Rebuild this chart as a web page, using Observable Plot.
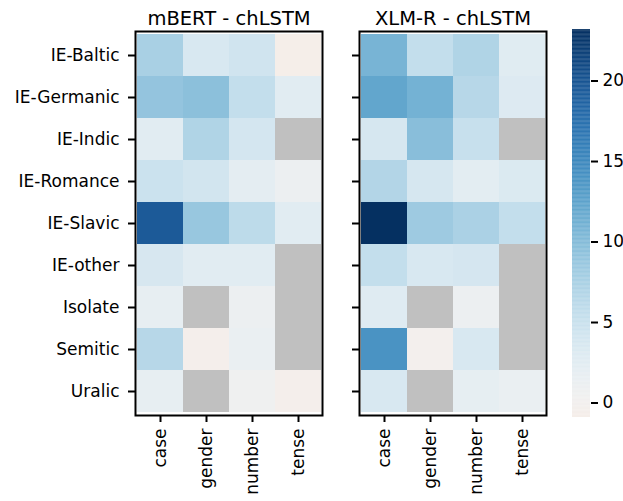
<!DOCTYPE html>
<html>
<head>
<meta charset="utf-8">
<script src="https://cdn.jsdelivr.net/npm/d3@7"></script>
<script src="https://cdn.jsdelivr.net/npm/@observablehq/plot@0.6"></script>
<style>
  html, body { margin: 0; padding: 0; background: white; }
  #wrap { position: relative; width: 623px; height: 501px; }
  #wrap svg { position: absolute; left: 0; top: 0; background: transparent; }
</style>
</head>
<body>
<div id="wrap"></div>
<script>
const groups = ["IE-Baltic", "IE-Germanic", "IE-Indic", "IE-Romance", "IE-Slavic", "IE-other", "Isolate", "Semitic", "Uralic"];
const features = ["case", "gender", "number", "tense"];
const titles = ["mBERT - chLSTM", "XLM-R - chLSTM"];
// rows = groups, columns = features; null = missing
const mbert = [
  [7.5, 3.5, 4.3, -0.9],
  [9.0, 9.5, 5.5, 2.5],
  [2.5, 7.0, 4.0, null],
  [4.8, 4.2, 2.2, 1.0],
  [19.5, 8.7, 6.0, 2.5],
  [3.7, 2.5, 2.6, null],
  [1.8, null, 1.0, null],
  [6.5, -0.6, 1.3, null],
  [1.8, null, 0.6, -0.6]
];
const xlmr = [
  [10.8, 5.5, 7.0, 2.7],
  [12.2, 11.0, 6.5, 3.0],
  [3.8, 9.7, 5.2, null],
  [6.8, 3.8, 2.3, 3.2],
  [23.2, 8.3, 7.4, 5.5],
  [5.5, 3.6, 3.9, null],
  [2.8, null, 1.0, null],
  [14.0, -0.2, 3.5, null],
  [3.6, null, 1.9, 1.4]
];
const cbarTicks = [0, 5, 10, 15, 20];
const vmin = -0.9, vmax = 23.2;

const W = 623, H = 501;
const font = {fontFamily: "DejaVu Sans", fontSize: "17px", background: "transparent", color: "black"};
const colorOpts = {type: "diverging", scheme: "RdBu", pivot: 0, domain: [vmin, vmax]};

function toRows(mat) {
  const rows = [];
  groups.forEach((g, i) => features.forEach((f, j) => rows.push({group: g, feature: f, v: mat[i][j]})));
  return rows;
}

function panel(mat, title, left, right, showY) {
  const rows = toRows(mat);
  return Plot.plot({
    width: W, height: H,
    marginLeft: left, marginRight: W - right, marginTop: 31, marginBottom: H - 415,
    style: font,
    x: {domain: features, padding: 0, label: null},
    y: {domain: groups, padding: 0, label: null},
    color: colorOpts,
    marks: [
      Plot.cell(rows.filter(d => d.v == null), {x: "feature", y: "group", fill: "#c0c0c0"}),
      Plot.cell(rows.filter(d => d.v != null), {x: "feature", y: "group", fill: "v"}),
      Plot.frame({stroke: "black", strokeWidth: 2}),
      Plot.axisY({anchor: "left", tickSize: 7, tickPadding: 9, strokeWidth: 2, label: null,
                  tickFormat: showY ? (d => d) : (() => "")}),
      Plot.axisX({anchor: "bottom", tickSize: 7, tickPadding: 6, strokeWidth: 2, label: null, tickRotate: -90}),
      Plot.text([title], {frameAnchor: "top", dy: -7, lineAnchor: "bottom", fontSize: 19.5})
    ]
  });
}

const wrap = document.getElementById("wrap");
wrap.append(panel(mbert, titles[0], 135, 322, true));
wrap.append(panel(xlmr, titles[1], 359, 546, false));

// colorbar
const step = 0.05;
const grad = d3.range(vmin, vmax, step).map(v => ({v, v2: Math.min(v + step + 0.02, vmax)}));
wrap.append(Plot.plot({
  width: W, height: H,
  marginLeft: 572, marginRight: W - 590, marginTop: 29, marginBottom: H - 417,
  style: font,
  x: {domain: [0, 1], axis: null},
  y: {domain: [vmin, vmax], label: null},
  color: colorOpts,
  marks: [
    Plot.rect(grad, {x1: 0, x2: 1, y1: "v", y2: "v2", fill: "v"}),
    Plot.axisY({anchor: "right", ticks: cbarTicks, tickSize: 7, tickPadding: 5, strokeWidth: 2, label: null})
  ]
}));
</script>
</body>
</html>
